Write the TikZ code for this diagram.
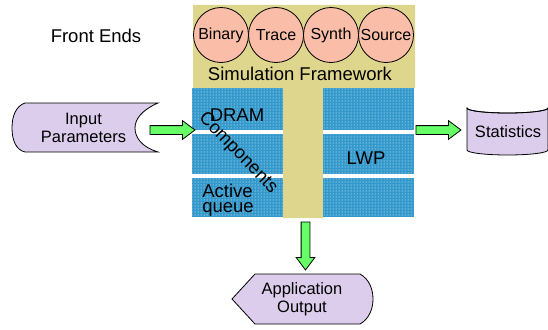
\documentclass[tikz,border=0pt]{standalone}
\usepackage{fontspec}
\setmainfont{Liberation Sans}
\usetikzlibrary{patterns,shapes.arrows}
\definecolor{tanbg}{RGB}{222,214,140}
\definecolor{bluep}{RGB}{51,153,204}
\definecolor{salmon}{RGB}{250,190,168}
\definecolor{lav}{RGB}{220,205,236}
\definecolor{grn}{RGB}{102,255,102}
\tikzset{
  big/.style={font=\fontsize{18.5}{18}\selectfont},
  mid/.style={font=\fontsize{16.5}{18.5}\selectfont},
  fe/.style={circle,draw=black,line width=0.8pt,fill=salmon,minimum size=55pt,inner sep=0pt,font=\fontsize{16}{18}\selectfont},
  bluebox/.style={fill=bluep},
  dotsbox/.style={pattern=dots,pattern color=white},
  blockarrow/.style={single arrow,draw=black,line width=0.8pt,fill=grn,inner sep=4pt,
    single arrow head extend=5pt,single arrow tip angle=74,minimum width=18pt},
  lavshape/.style={draw=black,line width=0.8pt,fill=lav}
}
\begin{document}
\begin{tikzpicture}[x=1pt,y=-1pt]
\useasboundingbox (0,0) rectangle (548,329);
% framework background (T shape)
\fill[tanbg] (193,5) -- (415,5) -- (415,88) -- (323,88) -- (323,218) -- (283,218) -- (283,88) -- (193,88) -- cycle;
% component panels
\foreach \xa/\xb in {192/283,323/414}{
  \foreach \ya/\yb in {88/130,134/174,178/217}{
    \fill[bluebox] (\xa,\ya) rectangle (\xb,\yb);
    \fill[dotsbox] (\xa,\ya) rectangle (\xb,\yb);
  }
}
% front ends
\node[fe] (bin) at (221,35) {Binary};
\node[fe] (tra) at (276,35) {Trace};
\node[fe] (syn) at (331,35) {Synth};
\node[fe] (src) at (386,35) {Source};
\node[big] (fw) at (300,74) {Simulation Framework};
\node[big] (fends) at (96,36) {Front Ends};
% component labels
\node[big] (dram) at (237,115) {DRAM};
\node[big] (lwp) at (366,158) {LWP};
\node[big,align=left,font=\fontsize{18.5}{15}\selectfont] (aq) at (228,200) {Active\\queue};
\node[big,rotate=-46] (comp) at (238,153) {Components};
% input parameters
\path[lavshape] (25,103) -- (158,103) .. controls (142,110) and (135,119) .. (135,128)
  .. controls (135,138) and (142,147) .. (158,152) -- (25,152)
  .. controls (16,150) and (12,140) .. (12,128) .. controls (12,116) and (16,106) .. (25,103) -- cycle;
\node[mid,align=center] (inp) at (83.5,128) {Input\\Parameters};
% statistics cylinder
\path[lavshape] (467,108) -- (467,150) arc[start angle=180,end angle=360,x radius=40.5,y radius=-5]
  -- (548,108) arc[start angle=0,end angle=-180,x radius=40.5,y radius=-5] -- cycle;
\draw[line width=0.8pt] (467,108) arc[start angle=180,end angle=360,x radius=40.5,y radius=-5];
\node[mid] (stat) at (508,132) {Statistics};
% application output
\path[lavshape] (232,299) -- (255,274) -- (360,274) .. controls (369,279) and (373,289) .. (373,299)
  .. controls (373,309) and (369,319) .. (360,324) -- (255,324) -- cycle;
\node[mid,align=center] (app) at (302,299) {Application\\Output};
% block arrows
\node[blockarrow,minimum height=45pt] (a1) at (169.5,130) {};
\node[blockarrow,minimum height=45pt] (a2) at (435.5,130) {};
\node[blockarrow,minimum height=48pt,shape border rotate=270] (a3) at (305.5,243) {};
\end{tikzpicture}
\end{document}
